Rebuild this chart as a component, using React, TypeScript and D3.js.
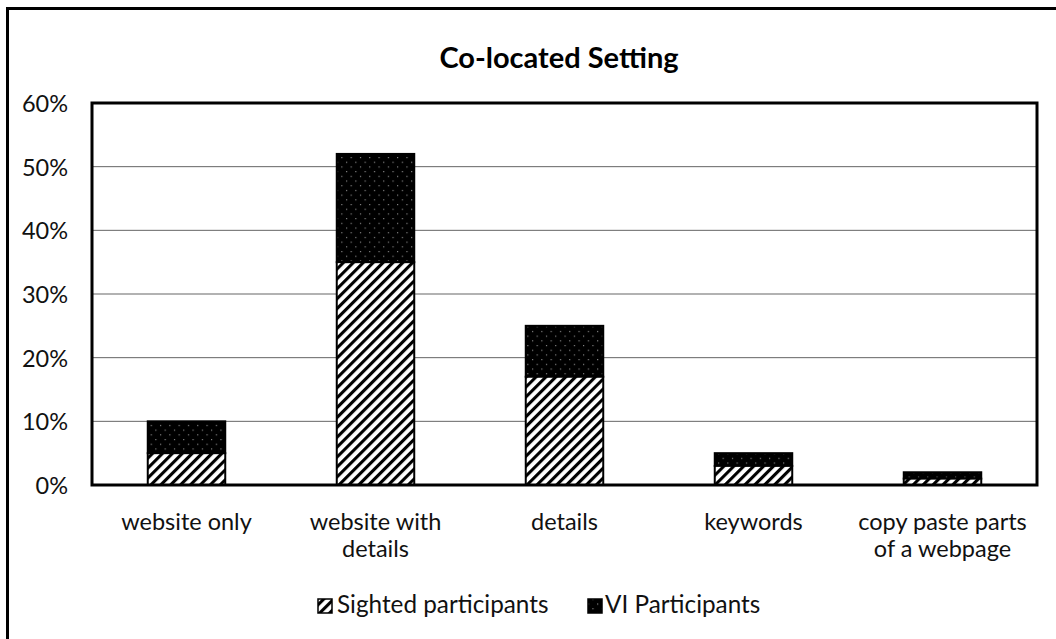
import React from "react";
import * as d3 from "d3";

const categories = ["website only", "website with details", "details", "keywords", "copy paste parts of a webpage"];
const categoryLines = [["website only"], ["website with", "details"], ["details"], ["keywords"], ["copy paste parts", "of a webpage"]];
const sighted = [0.05, 0.35, 0.17, 0.03, 0.01];
const vi = [0.05, 0.17, 0.08, 0.02, 0.01];
const yTicks = [0, 0.1, 0.2, 0.3, 0.4, 0.5, 0.6];
const seriesNames = ["Sighted participants", "VI Participants"];

const W = 1056, H = 639;
const plot = { left: 92, top: 103, right: 1037, bottom: 485 };
const FONT = "Lato, 'Open Sans', sans-serif";

export default function App() {
  const x = d3.scaleBand<string>().domain(categories).range([plot.left, plot.right]).paddingInner(0.59).paddingOuter(0.295);
  const y = d3.scaleLinear().domain([0, 0.6]).range([plot.bottom, plot.top]);
  const fmt = d3.format(".0%");
  const rows = categories.map((c, i) => ({ c, s: sighted[i], v: vi[i] }));
  return (
    <div style={{ position: "fixed", left: 0, top: 0 }}>
      <svg width={W} height={H} style={{ display: "block", background: "#fff" }}>
        <defs>
          <pattern id="hatch" patternUnits="userSpaceOnUse" width={7} height={7} patternTransform="rotate(45)">
            <rect width={7} height={7} fill="#fff" />
            <rect x={0} y={0} width={3.1} height={7} fill="#000" />
          </pattern>
          <pattern id="dots" patternUnits="userSpaceOnUse" width={9.3} height={9.4}>
            <rect width={9.3} height={9.4} fill="#000" />
            <rect x={2} y={2} width={1} height={1} fill="#bbb" />
            <rect x={6.6} y={6.7} width={1} height={1} fill="#bbb" />
          </pattern>
        </defs>
        <rect x={7.5} y={8.5} width={W + 10} height={H + 10} fill="none" stroke="#000" strokeWidth={3} />
        <text x={559} y={68} textAnchor="middle" fontFamily={FONT} fontWeight="bold" fontSize={29} fill="#000">Co-located Setting</text>
        {yTicks.map((t) => (
          <g key={t}>
            {t > 0 && t < 0.6 && (
              <line x1={plot.left} x2={plot.right} y1={y(t)} y2={y(t)} stroke="#000" strokeWidth={1} opacity={0.6} />
            )}
            <text x={68} y={y(t) + 9} textAnchor="end" fontFamily={FONT} fontSize={23.5} fill="#111">{fmt(t)}</text>
          </g>
        ))}
        {rows.map((r) => (
          <g key={r.c}>
            <rect x={x(r.c)} y={y(r.s + r.v)} width={x.bandwidth()} height={y(r.s) - y(r.s + r.v)} fill="url(#dots)" stroke="#000" strokeWidth={2} />
            <rect x={x(r.c)} y={y(r.s)} width={x.bandwidth()} height={y(0) - y(r.s)} fill="url(#hatch)" stroke="#000" strokeWidth={2} />
          </g>
        ))}
        <rect x={plot.left} y={plot.top} width={plot.right - plot.left} height={plot.bottom - plot.top} fill="none" stroke="#000" strokeWidth={3} />
        {categories.map((c, i) => (
          <text key={c} textAnchor="middle" fontFamily={FONT} fontSize={23.5} fill="#111">
            {categoryLines[i].map((ln, j) => (
              <tspan key={j} x={(x(c) as number) + x.bandwidth() / 2} y={530 + j * 27}>{ln}</tspan>
            ))}
          </text>
        ))}
        <g fontFamily={FONT} fontSize={24.3} fill="#111">
          <rect x={318} y={599} width={14} height={14} fill="url(#hatch)" stroke="#000" strokeWidth={1.5} />
          <text x={337} y={613}>{seriesNames[0]}</text>
          <rect x={588} y={599} width={14} height={14} fill="url(#dots)" stroke="#000" strokeWidth={1.5} />
          <text x={605} y={613}>{seriesNames[1]}</text>
        </g>
      </svg>
    </div>
  );
}
